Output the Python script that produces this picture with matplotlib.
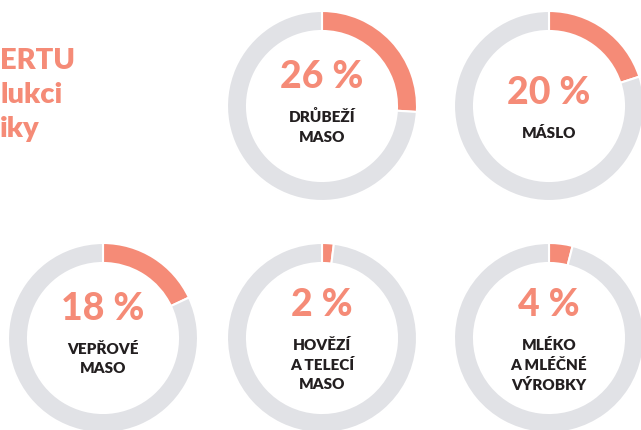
import matplotlib.pyplot as plt

plt.rcParams['font.family'] = ['Lato', 'DejaVu Sans']

W, H = 641, 431

# data
shares = [26, 20, 18, 2, 4]
pct_labels = ['26 %', '20 %', '18 %', '2 %', '4 %']
names = [['DRŮBEŽÍ', 'MASO'],
         ['MÁSLO'],
         ['VEPŘOVÉ', 'MASO'],
         ['HOVĚZÍ', 'A TELECÍ', 'MASO'],
         ['MLÉKO', 'A MLÉČNÉ', 'VÝROBKY']]
title_bits = ['ERTU', 'lukci', 'iky']

# layout (pixel coords, y from top)
centers = [(322, 107), (549, 107), (103, 339), (322, 339), (549, 339)]
R = 95
RING = 20
pct_off = {1: -14, 2: -30, 3: -34}

ORANGE = '#F58B77'
GREY = '#E1E2E6'
DARK = '#231F20'

fig = plt.figure(figsize=(W / 100, H / 100), dpi=100)
ax = fig.add_axes([0, 0, 1, 1])

for i, v in enumerate(shares):
    cx, cy = centers[i]
    ax.pie([v, 100 - v], colors=[ORANGE, GREY], startangle=90, counterclock=False,
           center=(cx, H - cy), radius=R,
           wedgeprops=dict(width=RING, edgecolor='white', linewidth=1.5))
    n = len(names[i])
    py = cy + pct_off[n]
    ax.text(cx, H - py, pct_labels[i], ha='center', va='center', fontsize=27,
            fontweight=900, color=ORANGE)
    for k, line in enumerate(names[i]):
        ax.text(cx, H - (py + 40 + 20 * k), line, ha='center', va='center',
                fontsize=11, fontweight=800, color=DARK)

# title, cut by the left edge in the original
for k, t in enumerate(title_bits):
    ax.text(0, H - (61 + 34 * k), t, ha='left', va='center', fontsize=21,
            fontweight=800, color=ORANGE)

ax.set_xlim(0, W)
ax.set_ylim(0, H)
ax.set_aspect('equal')
ax.axis('off')

fig.savefig('out.png', dpi=100)
